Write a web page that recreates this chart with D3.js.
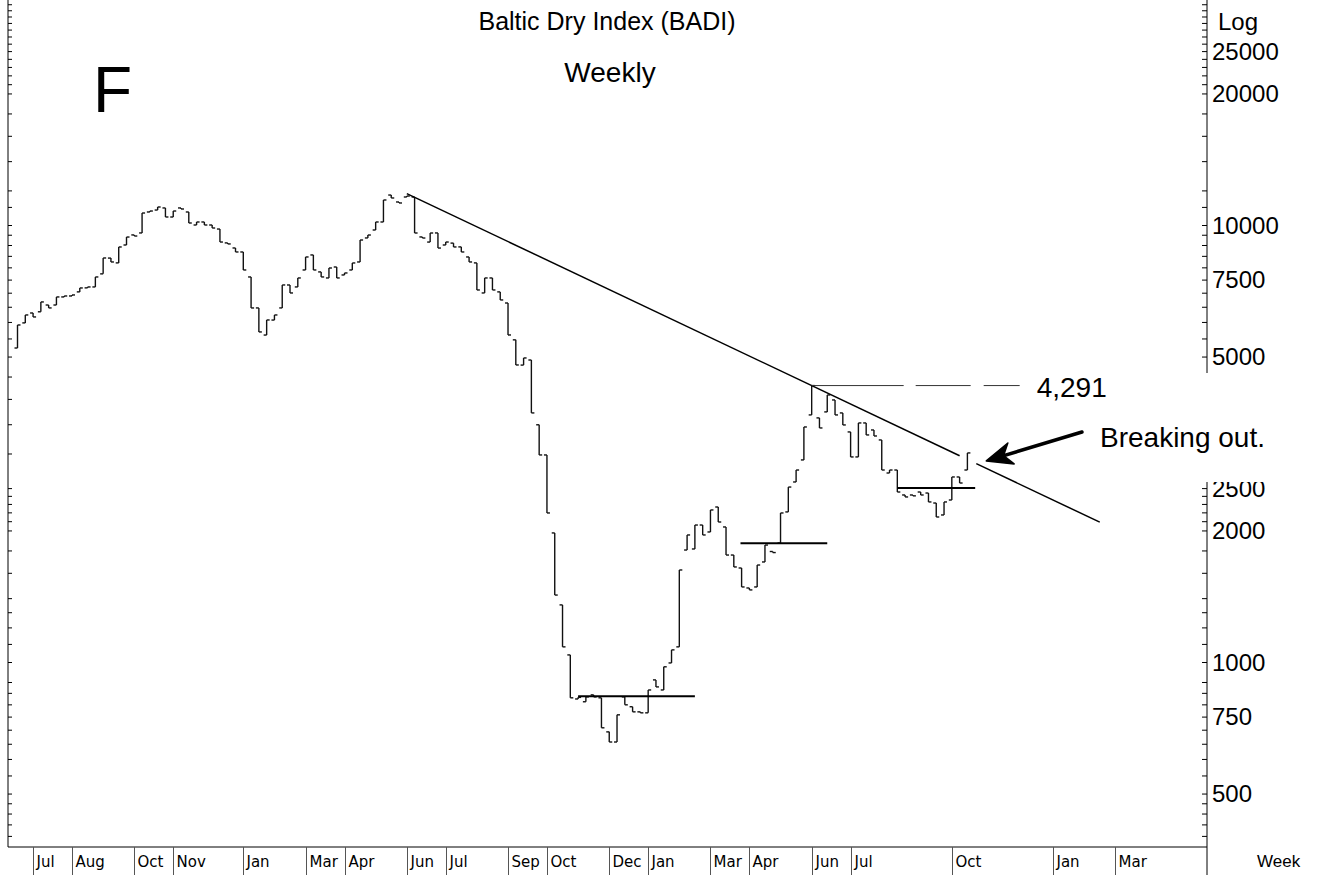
<!DOCTYPE html>
<html>
<head>
<meta charset="utf-8">
<script src="https://cdn.jsdelivr.net/npm/d3@7"></script>
<style>
body { margin: 0; background: #fff; }
svg { display: block; }
text { font-family: "Liberation Sans", Arial, sans-serif; fill: #000; }
</style>
</head>
<body>
<svg id="chart" width="1324" height="875"></svg>
<script>
// weekly bars start on this monday
var firstWeek = new Date(2007, 5, 18);

var opens = [5230, 5970, 6290, 6330, 6560, 6560, 6845, 6880, 7030, 7180,
    7215, 7730, 8400, 8190, 9000, 9490, 9590, 10710, 10820, 10940,
    10430, 10940, 10710, 10000, 10160, 10000, 9790, 9100, 8860, 8675,
    7605, 6460, 5600, 6060, 6460, 7290, 7215, 7890, 8540, 7810,
    7565, 8015, 7685, 7890, 8230, 9340, 9740, 10160, 11710, 11290,
    11590, 11590, 9390, 9140, 9590, 9000, 9090, 8910, 8450, 8190,
    6990, 7565, 7030, 6630, 5460, 4780, 4910, 3490, 2977, 1974,
    1351, 1038, 823, 811, 841, 828, 692, 656, 832, 790,
    769, 765, 910, 863, 995, 1083, 1804, 1814, 2058, 1984,
    2263, 2037, 1757, 1641, 1477, 1485, 1694, 1790, 1872, 2205,
    2582, 2900, 3676, 3619, 3735, 3978, 3715, 3361, 2946, 3524,
    3396, 3222, 2707, 2750, 2411, 2411, 2449, 2436, 2311, 2170,
    2348, 2651, 2750];
var closes = [5905, 6225, 6160, 6667, 6460, 6845, 6880, 6917, 7177, 7215,
    7605, 8405, 8230, 8907, 9386, 9436, 10652, 10765, 10995, 10431,
    10765, 10880, 10106, 10160, 10000, 9843, 9142, 9050, 8675, 7890,
    6459, 5692, 6063, 6225, 7291, 6990, 7565, 8450, 7890, 7605,
    7973, 7565, 7767, 8187, 9240, 9486, 10160, 11409, 11530, 11230,
    11650, 9587, 9337, 9587, 8857, 9142, 8907, 8675, 8230, 7101,
    7565, 7101, 6737, 5602, 4783, 4963, 3715, 2977, 2193, 1423,
    1083, 828, 830, 832, 832, 707, 656, 757, 798, 769,
    765, 863, 877, 975, 1066, 1624, 1953, 2058, 1953, 2228,
    2091, 1757, 1650, 1485, 1462, 1667, 1852, 1780, 2193, 2514,
    2750, 3450, 4291, 3432, 4084, 3676, 3487, 2946, 3524, 3308,
    3290, 2750, 2750, 2449, 2386, 2400, 2411, 2324, 2147, 2324,
    2651, 2568, 3009];

// right axis
var yLabels = [25000, 20000, 10000, 7500, 5000, 2500, 2000, 1000, 750, 500];
var yTicks = [400, 425, 450, 475, 500, 550, 600, 650, 700, 750, 800, 850, 900, 1000,
    1100, 1200, 1300, 1400, 1600, 1800, 2000, 2100, 2200, 2300, 2400, 2500,
    3000, 3500, 4000, 4500, 5000, 5500, 6000, 6500, 7000, 7500, 8000, 8500, 9000, 9500,
    10000, 11000, 12000, 14000, 16000, 18000, 20000, 21000, 22000, 23000, 24000,
    25000, 26000, 27000, 28000, 29000, 30000, 31000, 32000];

// bottom axis: first monday of the month for each label shown
var monthTicks = ["2007-07-02", "2007-08-06", "2007-10-01", "2007-11-05", "2008-01-07",
    "2008-03-03", "2008-04-07", "2008-06-02", "2008-07-07", "2008-09-01", "2008-10-06",
    "2008-12-01", "2009-01-05", "2009-03-02", "2009-04-06", "2009-06-01", "2009-07-06",
    "2009-10-05", "2010-01-04", "2010-03-01"];
var monthNames = ["Jul", "Aug", "Oct", "Nov", "Jan", "Mar", "Apr", "Jun", "Jul", "Sep", "Oct",
    "Dec", "Jan", "Mar", "Apr", "Jun", "Jul", "Oct", "Jan", "Mar"];

// trend line through the 2008 top and the june 2009 high
var trendDates = ["2008-06-02", "2009-06-01"];
var trendValues = [11800, 4291];
var trendEnd = "2010-02-15";
var trendGap = ["2009-10-12", "2009-10-27"];

// support lines
var supportStart = ["2008-11-03", "2009-03-29", "2009-08-17"];
var supportEnd = ["2009-02-16", "2009-06-15", "2009-10-26"];
var supportValues = [835, 1870, 2500];

var highLevel = 4291;
var highLevelEnd = "2009-12-05";
var arrowTail = ["2010-01-30", 3360];
var arrowTip = ["2009-11-05", 2885];

var parseDate = d3.timeParse("%Y-%m-%d");
var svg = d3.select("#chart");
var left = 8, right = 1207, bottom = 847;

var x = d3.scaleTime()
    .domain([new Date(2007, 5, 9, 11), new Date(2010, 4, 22, 10)])
    .range([left, right]);
var y = d3.scaleLog()
    .domain([10000 * Math.pow(10, -622 / 437), 10000 * Math.pow(10, 225 / 437)])
    .range([bottom, 0]);

var bars = closes.map(function(c, i) {
    return {date: d3.timeWeek.offset(firstWeek, i), open: opens[i], close: c};
});

// frame
svg.append("line").attr("x1", left).attr("x2", left).attr("y1", 0).attr("y2", bottom)
    .attr("stroke", "#000");
svg.append("line").attr("x1", left).attr("x2", right).attr("y1", bottom).attr("y2", bottom)
    .attr("stroke", "#000");
svg.append("line").attr("x1", right).attr("x2", right).attr("y1", 0).attr("y2", 875)
    .attr("stroke", "#000");

var leftAxis = svg.append("g").attr("transform", "translate(" + left + ",0)")
    .call(d3.axisRight(y).tickValues(yTicks).tickSize(4).tickFormat(""));
leftAxis.select(".domain").remove();
var rightAxis = svg.append("g").attr("transform", "translate(" + right + ",0)")
    .call(d3.axisLeft(y).tickValues(yTicks).tickSize(5).tickFormat(""));
rightAxis.select(".domain").remove();

svg.selectAll(".ylab").data(yLabels).enter().append("text")
    .attr("class", "ylab")
    .attr("x", right + 5)
    .attr("y", function(d) { return y(d); })
    .attr("dy", "0.36em")
    .style("font-size", "24px")
    .text(function(d) { return d; });
svg.append("text").attr("x", 1218).attr("y", 30).style("font-size", "24px").text("Log");

// month separators
var months = svg.append("g");
monthTicks.forEach(function(d, i) {
    var mx = Math.round(x(parseDate(d))) + 0.5;
    months.append("line").attr("x1", mx).attr("x2", mx).attr("y1", bottom).attr("y2", 875)
        .attr("stroke", "#555");
    months.append("text").attr("x", mx + 3).attr("y", 867)
        .style("font-family", "'DejaVu Sans', sans-serif").style("font-size", "15px")
        .text(monthNames[i]);
});
svg.append("text").attr("x", 1257).attr("y", 867).style("font-size", "17px").text("Week");

// weekly bars
var barG = svg.append("g").attr("stroke", "#111").attr("stroke-width", 1.4);
bars.forEach(function(b) {
    var bx = x(b.date);
    barG.append("line").attr("x1", bx).attr("x2", bx)
        .attr("y1", y(b.open)).attr("y2", y(b.close));
    barG.append("line").attr("x1", bx - 3).attr("x2", bx)
        .attr("y1", y(b.open)).attr("y2", y(b.open));
    barG.append("line").attr("x1", bx).attr("x2", bx + 3)
        .attr("y1", y(b.close)).attr("y2", y(b.close));
});

// trend line, extrapolated in log space
function trendAt(date) {
    var d0 = parseDate(trendDates[0]), d1 = parseDate(trendDates[1]);
    var t = (date - d0) / (d1 - d0);
    var l = Math.log10(trendValues[0]) + t * (Math.log10(trendValues[1]) - Math.log10(trendValues[0]));
    return Math.pow(10, l);
}
var trendPieces = [[trendDates[0], trendGap[0]], [trendGap[1], trendEnd]];
trendPieces.forEach(function(p) {
    var a = parseDate(p[0]), b = parseDate(p[1]);
    svg.append("line")
        .attr("x1", x(a)).attr("y1", y(trendAt(a)))
        .attr("x2", x(b)).attr("y2", y(trendAt(b)))
        .attr("stroke", "#000").attr("stroke-width", 1.5);
});

supportValues.forEach(function(v, i) {
    svg.append("line")
        .attr("x1", x(parseDate(supportStart[i]))).attr("x2", x(parseDate(supportEnd[i])))
        .attr("y1", y(v)).attr("y2", y(v))
        .attr("stroke", "#000").attr("stroke-width", 2);
});

// dashed line at the june high
var hx1 = x(parseDate(trendDates[1])), hx2 = x(parseDate(highLevelEnd));
svg.append("line").attr("x1", hx1).attr("x2", hx2)
    .attr("y1", y(highLevel)).attr("y2", y(highLevel))
    .attr("stroke", "#333").attr("stroke-width", 1)
    .attr("stroke-dasharray", "92,12,55,13,55,13");

// white box behind the annotation
svg.append("rect").attr("x", 1090).attr("y", 373).attr("width", 234).attr("height", 109)
    .attr("fill", "#fff");

svg.append("text").attr("x", hx2 + 17).attr("y", y(highLevel) + 11)
    .style("font-size", "28px").text("4,291");
svg.append("text").attr("x", 1100).attr("y", 447)
    .style("font-size", "28px").text("Breaking out.");

// arrow
var tx = x(parseDate(arrowTip[0])), ty = y(arrowTip[1]);
var sx = x(parseDate(arrowTail[0])), sy = y(arrowTail[1]);
var ang = Math.atan2(sy - ty, sx - tx);
function pt(len, da) {
    return [tx + len * Math.cos(ang + da), ty + len * Math.sin(ang + da)];
}
svg.append("line").attr("x1", sx).attr("y1", sy).attr("x2", pt(14, 0)[0]).attr("y2", pt(14, 0)[1])
    .attr("stroke", "#000").attr("stroke-width", 3.5).attr("stroke-linecap", "round");
svg.append("polygon")
    .attr("points", [[tx, ty], pt(28, 0.4), pt(18, 0), pt(28, -0.4)].map(function(p) {
        return p.join(",");
    }).join(" "))
    .attr("fill", "#000").attr("stroke", "#000").attr("stroke-width", 1.5)
    .attr("stroke-linejoin", "round");

// titles
svg.append("text").attr("x", 607).attr("y", 30).attr("text-anchor", "middle")
    .style("font-size", "25px").text("Baltic Dry Index (BADI)");
svg.append("text").attr("x", 610).attr("y", 82).attr("text-anchor", "middle")
    .style("font-size", "28px").text("Weekly");
svg.append("text").attr("x", 93).attr("y", 112).style("font-size", "64px").text("F");
</script>
</body>
</html>
